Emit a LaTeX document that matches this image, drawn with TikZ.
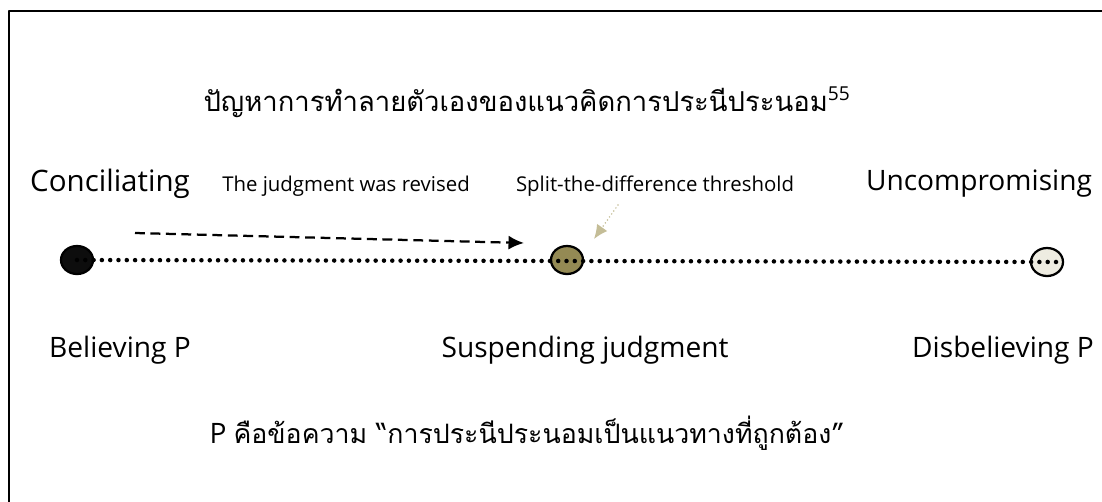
\documentclass[tikz,border=0pt]{standalone}
\usepackage{fontspec}
\setmainfont{Open Sans}
\newfontfamily\thaifont[Script=Thai]{Loma}
\usetikzlibrary{arrows.meta}
\usetikzlibrary{positioning}
\usetikzlibrary{shapes.geometric}
\definecolor{olivebrown}{RGB}{148,138,84}
\definecolor{creamgray}{RGB}{238,236,225}
\definecolor{khakigray}{RGB}{196,189,151}

\begin{document}
\begin{tikzpicture}[line cap=round,line join=round,x=0.025cm,y=-0.025cm,
  bigtext/.style={font=\fontsize{20}{24}\selectfont},
  thaitext/.style={font=\fontsize{19.5}{24}\selectfont},
  smalltext/.style={font=\fontsize{14.5}{17}\selectfont},
  stance/.style={ellipse,draw,line width=1.6pt,minimum width=0.8cm,minimum height=0.7cm,inner sep=0pt}]
\useasboundingbox (0,0) rectangle (1102,501);
\draw [line width=1.3pt] (9,520) -- (9,11) -- (1120,11);
% title
\node[thaitext] (title) at (527,102) {{\thaifont ปัญหาการทำลายตัวเองของแนวคิดการประนีประนอม}\textsuperscript{55}};
% labels above the line
\node[font=\fontsize{21}{25}\selectfont] (concil) at (110,184) {Conciliating};
\node[smalltext] (revised) at (346,186) {The judgment was revised};
\node[smalltext] (split) at (655,186) {Split-the-difference threshold};
\node[bigtext] (uncomp) at (979,184) {Uncompromising};
% the three positions
\node[stance,fill=black!95] (believe) at (77,260) {};
\node[stance,fill=olivebrown] (suspend) at (567,260) {};
\node[stance,fill=creamgray] (disbelieve) at (1047,262) {};
\draw [line width=3.2pt, dash pattern=on 0pt off 5.9pt] (believe.center) -- (disbelieve.east);
\coordinate (revstart) at (135,233);
\coordinate (revend) at (524,243);
\draw [line width=1.6pt, line cap=butt, dash pattern=on 7pt off 4pt, -{Latex[length=11pt, width=10pt]}] (revstart) -- (revend);
\coordinate (splitstart) at (618,205);
\coordinate (splitend) at (594,239);
\draw [khakigray, line width=1.2pt, dash pattern=on 0pt off 2.6pt, -{Latex[length=10pt, width=9pt]}] (splitstart) -- (splitend);
% labels below the line
\node[bigtext] (believetext) at (120,350) {Believing P};
\node[bigtext] (suspendtext) at (585,350) {Suspending judgment};
\node[bigtext] (disbelievetext) at (1003,350) {Disbelieving P};
\node[font=\fontsize{19}{24}\selectfont] (pdef) at (527,433) {{\fontsize{20}{24}\selectfont P} {\thaifont คือข้อความ “การประนีประนอมเป็นแนวทางที่ถูกต้อง”}};
\end{tikzpicture}
\end{document}
